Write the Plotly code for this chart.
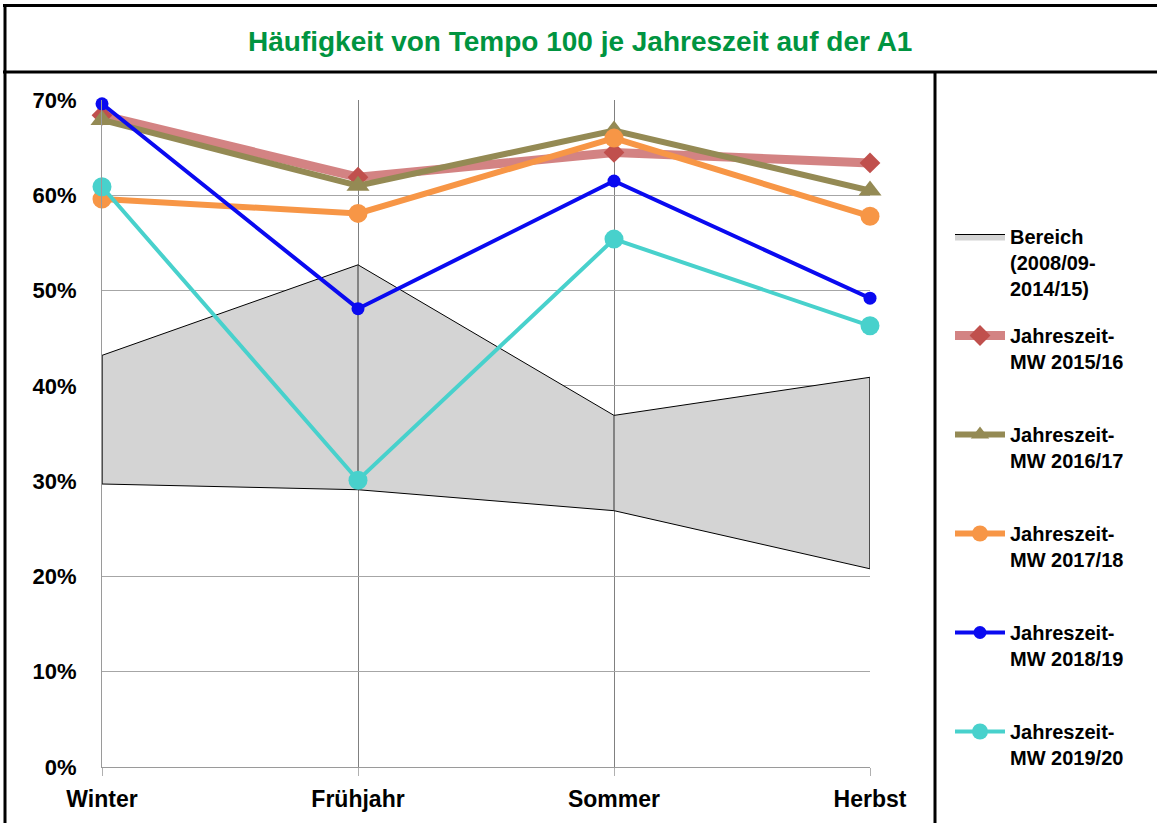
import plotly.graph_objects as go

seasons = ["Winter", "Frühjahr", "Sommer", "Herbst"]
range_low = [0.297, 0.291, 0.269, 0.208]
range_high = [0.432, 0.527, 0.369, 0.409]
mw_2015_16 = [0.684, 0.619, 0.645, 0.634]
mw_2016_17 = [0.679, 0.610, 0.668, 0.605]
mw_2017_18 = [0.596, 0.581, 0.660, 0.578]
mw_2018_19 = [0.696, 0.481, 0.615, 0.492]
mw_2019_20 = [0.609, 0.301, 0.554, 0.463]
y_ticks = [0, 0.1, 0.2, 0.3, 0.4, 0.5, 0.6, 0.7]
y_ticktext = ["0%", "10%", "20%", "30%", "40%", "50%", "60%", "70%"]

W, H = 1157, 823
L, R, T, B = 102, 287, 100, 56
PW, PH = W - L - R, H - T - B

def px(x):
    return (x - L) / PW

def py(y):
    return (H - B - y) / PH

FONT = "Arial, Liberation Sans, sans-serif"

fig = go.Figure()

# range band as a closed polygon (upper edge forward, lower edge back)
band_x = seasons + seasons[::-1] + [seasons[0]]
band_y = range_high + range_low[::-1] + [range_high[0]]
fig.add_trace(go.Scatter(x=band_x, y=band_y, mode="lines", fill="toself",
                         fillcolor="#d4d4d4", line=dict(color="#000000", width=1),
                         name="<b>Bereich<br>(2008/09-<br>2014/15)</b>", legendgroup="g0",
                         hoverinfo="skip"))

# darker verticals inside the band
vx, vy = [], []
for s, lo, hi in zip(seasons, range_low, range_high):
    vx += [s, s, None]
    vy += [lo, hi, None]
fig.add_trace(go.Scatter(x=vx, y=vy, mode="lines", line=dict(color="#333333", width=1),
                         showlegend=False, hoverinfo="skip", legendgroup="g0"))

series = [
    ("Jahreszeit-<br>MW 2015/16", mw_2015_16, "rgba(200,100,100,0.8)", 9, "diamond", "#c0504d", 16),
    ("Jahreszeit-<br>MW 2016/17", mw_2016_17, "#948a54", 6, "triangle-up", "#948a54", 20),
    ("Jahreszeit-<br>MW 2017/18", mw_2017_18, "#f79646", 6, "circle", "#f79646", 19),
    ("Jahreszeit-<br>MW 2018/19", mw_2018_19, "#0a0af0", 4, "circle", "#0a0af0", 13),
    ("Jahreszeit-<br>MW 2019/20", mw_2019_20, "#48d1cc", 4, "circle", "#48d1cc", 19),
]
for i, (name, vals, lc, lw, sym, mc, ms) in enumerate(series):
    fig.add_trace(go.Scatter(x=seasons, y=vals, mode="lines+markers", name="<b>" + name + "<br> </b>",
                             line=dict(color=lc, width=lw),
                             marker=dict(symbol=sym, color=mc, size=ms, line=dict(width=0)),
                             cliponaxis=False, legendgroup="g%d" % (i + 1)))

shapes = [
    dict(type="line", xref="paper", yref="paper", x0=px(3), x1=px(1160), y0=py(5.5), y1=py(5.5),
         line=dict(color="black", width=3)),
    dict(type="line", xref="paper", yref="paper", x0=px(3), x1=px(1160), y0=py(72), y1=py(72),
         line=dict(color="black", width=3)),
    dict(type="line", xref="paper", yref="paper", x0=px(5), x1=px(5), y0=py(4), y1=py(830),
         line=dict(color="black", width=3)),
    dict(type="line", xref="paper", yref="paper", x0=px(935), x1=px(935), y0=py(72), y1=py(830),
         line=dict(color="black", width=3)),
]

fig.update_layout(
    width=W, height=H,
    margin=dict(l=L, r=R, t=T, b=B, autoexpand=False),
    paper_bgcolor="white", plot_bgcolor="white",
    font=dict(family=FONT, color="black"),
    shapes=shapes,
    annotations=[dict(text="<b>Häufigkeit von Tempo 100 je Jahreszeit auf der A1</b>",
                      xref="paper", yref="paper", x=px(580), y=py(41),
                      xanchor="center", yanchor="middle", showarrow=False,
                      font=dict(size=28, color="#009440", family=FONT))],
    xaxis=dict(type="category", range=[0, 3], showgrid=True, gridcolor="#808080", gridwidth=1,
               showline=True, linecolor="#9a9a9a", linewidth=1,
               ticks="outside", ticklen=8, tickcolor="#b0b0b0",
               tickfont=dict(size=23, family=FONT), ticklabelstandoff=3, automargin=False,
               tickprefix="<b>", ticksuffix="</b>", zeroline=False, fixedrange=True),
    yaxis=dict(range=[0, 0.7], tickvals=y_ticks, ticktext=["<b>%s</b>" % t for t in y_ticktext],
               showgrid=True, gridcolor="#a6a6a6", gridwidth=1,
               showline=True, linecolor="#9a9a9a", linewidth=1, automargin=False,
               tickfont=dict(size=22, family=FONT), ticklabelstandoff=20,
               zeroline=False, fixedrange=True),
    legend=dict(x=px(950), y=py(217), xanchor="left", yanchor="top",
                font=dict(size=20, family=FONT, color="black"),
                valign="top", tracegroupgap=18, itemwidth=50,
                bgcolor="rgba(0,0,0,0)", traceorder="grouped"),
    showlegend=True,
)

fig.write_html("out.html", config={"displayModeBar": False},
               post_script="document.body.style.margin='0';")
